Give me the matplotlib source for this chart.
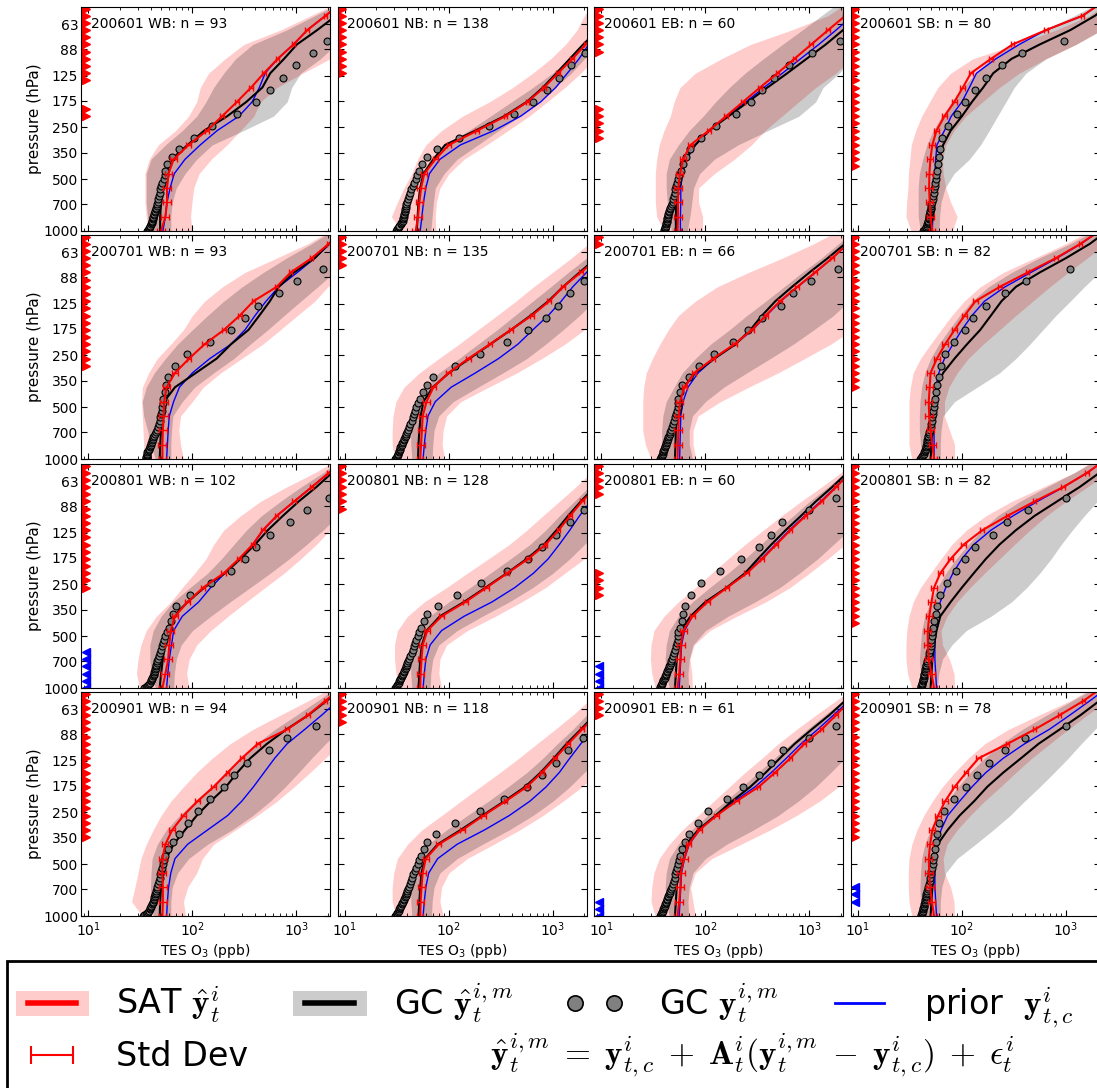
import numpy as np
import matplotlib
matplotlib.use('Agg')
import matplotlib.pyplot as plt
import matplotlib.transforms as mtransforms
from matplotlib.lines import Line2D
from matplotlib.patches import Rectangle
from matplotlib.collections import LineCollection
from matplotlib.container import ErrorbarContainer
from matplotlib.legend_handler import HandlerErrorbar, HandlerTuple, HandlerLine2D
from matplotlib.ticker import NullLocator

'''
TES O3 profiles vs GEOS-Chem, four basins x four Januaries
'''

months = ['200601', '200701', '200801', '200901']
basins = ['WB', 'NB', 'EB', 'SB']
n_obs = [[93, 138, 60, 80],
         [93, 135, 66, 82],
         [102, 128, 60, 82],
         [94, 118, 61, 78]]

# TES levels used for the profiles (hPa)
p_levels = [1000, 825.4, 681.3, 562.3, 464.2, 383.1, 316.2, 261.0, 215.4,
            177.8, 146.8, 121.2, 100.0, 82.5, 68.1, 56.2, 46.4]
# all TES levels (for the significance flags)
p_tes = [1000, 908.5, 825.4, 749.9, 681.3, 619.0, 562.3, 510.9, 464.2, 421.7,
         383.1, 348.1, 316.2, 287.3, 261.0, 237.1, 215.4, 195.7, 177.8, 161.6,
         146.8, 133.4, 121.2, 110.1, 100.0, 90.9, 82.5, 75.0, 68.1, 61.9, 56.2, 51.1]
# GEOS-Chem model levels (hPa)
p_gc = [1005, 990, 975, 960, 945, 930, 915, 900, 885, 870, 855, 840, 825, 810,
        795, 780, 765, 749, 734, 719, 700, 674, 649, 624, 598, 573, 548, 523,
        497, 472, 447, 409, 373, 335, 289, 246, 209, 178, 152, 129, 108, 92, 78.5]

# panels in row order: 2006 WB NB EB SB, 2007 ..., 2008 ..., 2009 ...
sat_mean = [
    [50, 55, 57, 57, 59, 66, 92, 138, 193, 268, 366, 486, 660, 936, 1270, 1900, 2800],
    [48, 50.5, 52, 54, 58, 74, 100, 187, 350, 568, 820, 1117, 1534, 2060, 2800, 3800, 5200],
    [54, 54.5, 54.5, 55, 57, 61, 72, 108, 158, 230, 334, 493, 716, 1040, 1510, 2210, 3200],
    [52, 50, 49, 48.4, 48.7, 49.8, 52, 57, 68, 84.5, 102, 122, 190, 307, 642, 1445, 2300],
    [51.5, 51.5, 52, 53, 53.5, 56.5, 68, 93, 131, 201, 285, 386, 645, 880, 1400, 2050, 3000],
    [53, 54, 55, 56, 61, 71, 99, 154, 248, 393, 625, 920, 1250, 1850, 2700, 3800, 5200],
    [54, 54.5, 55, 55.5, 57, 63, 78, 119, 190, 280, 380, 520, 764, 1130, 1658, 2330, 3300],
    [54, 52, 50, 48.5, 48, 49, 50, 57.5, 69, 85, 106, 135, 231, 429, 800, 1380, 2200],
    [51.5, 55, 58.5, 60, 62, 68, 90, 127, 200, 280, 380, 474, 645, 950, 1400, 2050, 3000],
    [53, 53.5, 54.5, 56, 62, 85, 144, 230, 364, 578, 850, 1130, 1460, 1900, 2600, 3600, 5000],
    [54, 56, 57.5, 58, 61.5, 75, 105, 162, 250, 352, 480, 655, 920, 1310, 1800, 2450, 3400],
    [54, 51, 48, 47, 47, 48.5, 51, 54, 62, 78, 104, 157, 274, 500, 940, 1600, 2500],
    [51.5, 52, 52, 51.5, 51.5, 55, 64, 82, 112, 160, 218, 298, 425, 812, 1290, 1900, 2800],
    [53, 53.5, 54.5, 56, 60, 80, 135, 215, 350, 560, 780, 1050, 1400, 1900, 2600, 3600, 5000],
    [54, 56, 57.5, 58, 62.5, 69, 87.5, 128, 199, 325, 467, 655, 892, 1310, 1800, 2450, 3400],
    [54, 51.5, 49.5, 48.5, 48, 49.5, 52, 59, 69, 85, 110, 145, 274, 500, 870, 1480, 2300],
]

# std dev of the SAT profile, percent of the mean
sat_sd_pct = [
    [8, 9, 9, 9, 8, 7, 6, 5, 5, 5, 4, 4, 4, 4, 4, 4, 4],
    [7, 8, 8, 8, 7, 6, 5, 5, 4, 4, 4, 4, 4, 4, 4, 4, 4],
    [8, 9, 9, 9, 8, 6, 5, 5, 5, 4, 4, 4, 4, 4, 4, 4, 4],
    [7, 8, 8, 8, 8, 7, 7, 6, 6, 5, 5, 5, 4, 4, 4, 4, 4],
    [8, 9, 9, 9, 8, 7, 6, 5, 5, 5, 4, 4, 4, 4, 4, 4, 4],
    [7, 8, 8, 8, 7, 6, 5, 5, 4, 4, 4, 4, 4, 4, 4, 4, 4],
    [8, 9, 9, 9, 8, 6, 5, 5, 5, 4, 4, 4, 4, 4, 4, 4, 4],
    [7, 8, 8, 8, 8, 7, 7, 6, 6, 5, 5, 5, 4, 4, 4, 4, 4],
    [8, 9, 9, 9, 8, 7, 6, 5, 5, 5, 4, 4, 4, 4, 4, 4, 4],
    [7, 8, 8, 8, 7, 6, 5, 5, 4, 4, 4, 4, 4, 4, 4, 4, 4],
    [8, 9, 9, 9, 8, 6, 5, 5, 5, 4, 4, 4, 4, 4, 4, 4, 4],
    [7, 8, 8, 8, 8, 7, 7, 6, 6, 5, 5, 5, 4, 4, 4, 4, 4],
    [8, 9, 9, 9, 8, 7, 6, 5, 5, 5, 4, 4, 4, 4, 4, 4, 4],
    [7, 8, 8, 8, 7, 6, 5, 5, 4, 4, 4, 4, 4, 4, 4, 4, 4],
    [8, 9, 9, 9, 8, 6, 5, 5, 5, 4, 4, 4, 4, 4, 4, 4, 4],
    [7, 8, 8, 8, 8, 7, 7, 6, 6, 5, 5, 5, 4, 4, 4, 4, 4],
]

sat_lo = [
    [37, 36, 35, 35, 35, 38.5, 47, 69, 92, 110, 119, 143, 206, 312, 700, 1365, 2660],
    [35, 28, 32, 37, 44, 50, 60, 85, 135, 245, 410, 640, 950, 1320, 1700, 2000, 2500],
    [40, 34, 33, 33, 33, 34, 36, 40, 46, 50, 57, 80, 142, 271, 670, 1500, 2400],
    [32.4, 29, 29.4, 30.3, 30.6, 31.6, 32.6, 36, 41, 49, 58.6, 78, 127, 331, 802, 1680, 2600],
    [34, 34, 33.5, 33, 32.5, 33, 38, 46, 62, 82, 100, 131, 194, 320, 645, 1290, 2200],
    [30, 28.5, 28.5, 29, 31, 37, 52, 80, 125, 190, 290, 440, 650, 990, 1500, 2200, 3200],
    [30, 26.5, 25, 25, 25, 25.5, 27, 31, 36.5, 44, 55, 80, 130, 260, 550, 1100, 2000],
    [33, 31, 31, 31, 31, 32, 34, 40, 50, 63, 80, 105, 150, 250, 500, 1000, 1800],
    [31, 29, 30, 32, 36, 45, 62, 80, 105, 135, 160, 200, 290, 450, 800, 1500, 2600],
    [33, 31, 30, 30, 32, 40, 58, 95, 150, 240, 380, 560, 800, 1150, 1650, 2300, 3200],
    [33, 30.5, 29.6, 30, 32, 40, 55, 80, 115, 165, 240, 360, 540, 830, 1300, 2000, 3000],
    [33, 30, 29, 29, 29.5, 31, 34, 40, 50, 63, 80, 110, 170, 300, 600, 1200, 2000],
    [33, 26, 28, 30, 32, 36, 42, 50, 62, 82, 110, 155, 230, 380, 700, 1300, 2300],
    [31, 28.5, 28.5, 29.5, 32, 40, 55, 85, 130, 200, 310, 470, 700, 1050, 1550, 2200, 3100],
    [33, 30, 30.5, 32, 36, 45, 60, 85, 120, 170, 240, 350, 500, 750, 1150, 1800, 2800],
    [33, 31, 30.5, 30.5, 31, 33, 37, 43, 52, 65, 85, 115, 165, 280, 550, 1100, 1900],
]

sat_hi = [
    [99, 96, 99, 103, 116, 152, 215, 290, 389, 451, 650, 1150, 2100, 3000, 4200, 6000, 8000],
    [75, 74, 76, 82, 100, 140, 230, 370, 590, 880, 1300, 1850, 2500, 3500, 5000, 7000, 9500],
    [94, 94, 86, 86, 122, 190, 277, 374, 543, 789, 1148, 1795, 2500, 3300, 4500, 6000, 8000],
    [81, 90, 78, 70, 66, 65, 70, 84, 109, 158, 229, 356, 642, 1247, 2200, 3000, 4500],
    [82, 77, 74, 77, 100, 127, 187, 298, 474, 700, 1020, 1500, 2000, 2800, 4000, 5500, 7500],
    [91, 86, 88, 95, 130, 240, 450, 780, 1300, 2000, 2800, 3800, 5000, 6500, 8500, 11000, 14000],
    [81, 76, 76, 85, 140, 260, 500, 900, 1600, 2600, 3800, 5000, 6500, 8500, 11000, 14000, 18000],
    [85, 85, 76, 68, 68, 75, 90, 115, 160, 230, 330, 480, 700, 1050, 1600, 2400, 3500],
    [93, 88, 93, 110, 150, 220, 330, 500, 760, 1100, 1550, 2100, 2800, 3800, 5000, 6500, 8500],
    [85, 80, 82, 95, 150, 280, 500, 850, 1300, 2000, 2800, 3800, 5000, 6500, 8500, 11000, 14000],
    [75, 74, 71, 78, 110, 200, 380, 650, 1000, 1500, 2200, 3000, 4000, 5300, 7000, 9000, 12000],
    [85, 84, 76, 65, 63, 72, 90, 120, 165, 230, 320, 450, 650, 1000, 1600, 2500, 3800],
    [86, 82, 90, 110, 125, 160, 260, 420, 650, 950, 1350, 1900, 2600, 3500, 4700, 6200, 8000],
    [88, 82, 85, 100, 150, 270, 480, 800, 1250, 1900, 2700, 3700, 5000, 6500, 8500, 11000, 14000],
    [80, 76, 72, 80, 115, 220, 420, 750, 1250, 1900, 2800, 4000, 5500, 7300, 9500, 12000, 15000],
    [85, 84, 78, 68, 66, 72, 90, 120, 165, 235, 330, 470, 700, 1050, 1600, 2500, 3700],
]

gc_mean = [
    [49, 49, 50, 52, 56, 63, 90, 130, 216, 330, 470, 560, 760, 1010, 1580, 2400, 3500],
    [49, 50, 51, 53, 57, 71, 92, 180, 340, 560, 800, 1080, 1450, 1950, 2700, 3700, 5000],
    [52, 52, 52.5, 53, 56.7, 64.5, 80, 108, 167, 257, 394, 612, 937, 1435, 2100, 3000, 4200],
    [50, 50.5, 51, 52.5, 55, 60, 66, 78, 100, 125, 160, 200, 300, 560, 1100, 1900, 2900],
    [48.5, 49, 50, 50.5, 53.5, 68, 108, 171, 235, 346, 440, 555, 675, 950, 1500, 2050, 3000],
    [50.5, 51, 52, 53.5, 57, 70, 100, 158, 250, 395, 610, 900, 1250, 1800, 2600, 3700, 5000],
    [51, 51.5, 52, 53, 55, 62, 80, 122, 195, 270, 350, 470, 680, 1000, 1500, 2200, 3200],
    [50, 51, 52, 53, 54.5, 57, 66, 85, 112, 150, 190, 240, 330, 560, 1000, 1700, 2600],
    [48.5, 50, 52, 54, 57, 66, 90, 130, 205, 290, 400, 530, 740, 1050, 1550, 2200, 3200],
    [51, 52, 53, 55, 61, 82, 140, 225, 360, 560, 820, 1080, 1400, 1850, 2500, 3500, 4800],
    [51, 52, 53, 54.5, 58, 72, 100, 160, 240, 320, 430, 590, 830, 1150, 1650, 2300, 3200],
    [50, 51, 52, 54, 57, 62, 78, 100, 130, 170, 230, 330, 500, 820, 1350, 2100, 3100],
    [48.5, 49, 50, 52, 56, 66, 85, 110, 150, 210, 270, 360, 520, 800, 1300, 1950, 2900],
    [51, 52, 53, 54.5, 59, 78, 130, 210, 340, 540, 760, 1020, 1350, 1850, 2500, 3500, 4800],
    [51, 52, 53, 54.5, 58, 66, 85, 125, 180, 270, 380, 520, 720, 1050, 1550, 2200, 3100],
    [50, 51, 52, 53, 54, 58.5, 73, 95, 131, 175, 250, 370, 545, 870, 1380, 2100, 3100],
]

gc_lo = [
    [38, 37, 36, 36, 36, 40, 55, 80, 110, 135, 160, 200, 260, 380, 800, 1500, 2800],
    [49, 49, 49, 51, 55, 66, 90, 155, 250, 400, 640, 990, 1480, 2000, 2800, 4000, 5500],
    [47, 45, 43, 42, 42, 45, 55, 70, 95, 125, 170, 240, 360, 550, 850, 1300, 2000],
    [40, 38, 38, 38, 39, 42, 46, 53, 64, 80, 102, 135, 190, 310, 600, 1200, 2200],
    [44, 40, 37, 34, 33, 36, 43, 55, 72, 100, 140, 200, 300, 480, 800, 1400, 2300],
    [44, 43, 43, 44, 48, 58, 80, 125, 190, 290, 430, 640, 950, 1400, 2100, 3000, 4200],
    [40, 38, 38, 39, 42, 50, 60, 80, 112, 170, 250, 380, 570, 850, 1300, 1900, 2800],
    [42, 40, 39, 39, 39.5, 41, 44, 50, 60, 75, 95, 125, 180, 300, 550, 1100, 2000],
    [44, 40, 39, 39, 42, 50, 65, 95, 140, 190, 250, 330, 460, 700, 1100, 1800, 2800],
    [44, 43, 43, 45, 50, 65, 100, 160, 250, 390, 600, 850, 1150, 1600, 2200, 3000, 4000],
    [45, 42, 41, 42, 45, 55, 75, 110, 165, 240, 340, 480, 700, 1000, 1500, 2200, 3200],
    [41, 40, 39, 40, 41, 44, 50, 58, 70, 88, 115, 155, 220, 360, 650, 1200, 2100],
    [42, 40, 39.5, 40, 41, 46, 56, 75, 105, 150, 210, 290, 410, 620, 1000, 1600, 2500],
    [44, 43, 43, 45, 50, 63, 95, 150, 240, 370, 560, 800, 1100, 1550, 2100, 2900, 3900],
    [45, 42, 41, 42, 45, 55, 73, 105, 155, 225, 320, 460, 660, 950, 1400, 2100, 3100],
    [41, 40, 39.5, 40, 41, 44, 50, 58, 72, 92, 120, 165, 240, 380, 650, 1150, 2000],
]

gc_hi = [
    [62, 62, 64, 70, 85, 110, 155, 310, 600, 814, 900, 1100, 1700, 2400, 3300, 4500, 6500],
    [67, 69, 71, 74, 90, 120, 190, 300, 480, 720, 1050, 1500, 2000, 2800, 4000, 5500, 7500],
    [67, 71, 74, 77, 88, 122, 206, 400, 790, 1148, 1350, 1936, 2500, 3300, 4500, 6000, 8000],
    [60.5, 61, 63, 69, 84, 118, 151, 183, 220, 265, 318, 412, 642, 1247, 2200, 3200, 4500],
    [62, 62, 63, 65, 80, 105, 160, 250, 360, 530, 760, 1100, 1600, 2300, 3200, 4500, 6000],
    [69, 70, 72, 80, 110, 190, 330, 560, 850, 1250, 1800, 2500, 3400, 4500, 6000, 8000, 10000],
    [75, 70, 70, 75, 100, 150, 250, 420, 700, 1100, 1700, 2400, 3200, 4300, 5800, 7500, 10000],
    [62, 62, 63, 66, 85, 140, 230, 330, 450, 600, 800, 1100, 1500, 2100, 3000, 4200, 6000],
    [66, 67, 70, 78, 100, 150, 230, 360, 560, 850, 1250, 1800, 2500, 3400, 4600, 6000, 8000],
    [66, 67, 70, 80, 120, 210, 380, 640, 1000, 1450, 2000, 2800, 3800, 5000, 6500, 8500, 11000],
    [69, 68, 70, 76, 100, 165, 300, 520, 800, 1200, 1700, 2400, 3200, 4300, 5800, 7500, 10000],
    [58, 60, 65, 80, 110, 190, 300, 420, 560, 720, 900, 1150, 1500, 2000, 2800, 3800, 5000],
    [62, 62, 64, 72, 92, 140, 240, 380, 560, 780, 1050, 1400, 1900, 2600, 3500, 4700, 6200],
    [68, 69, 72, 82, 120, 210, 380, 640, 1000, 1450, 2000, 2800, 3800, 5000, 6500, 8500, 11000],
    [69, 68, 70, 76, 100, 160, 290, 500, 780, 1150, 1600, 2200, 3000, 4000, 5300, 7000, 9200],
    [62, 62, 64, 70, 90, 135, 200, 290, 400, 560, 770, 1050, 1400, 1900, 2600, 3600, 5000],
]

prior = [
    [52, 55, 57, 61, 67, 85, 119, 173, 280, 375, 440, 500, 660, 936, 1270, 1900, 2800],
    [53, 55, 57, 60, 65, 82, 129, 271, 489, 762, 1062, 1375, 1780, 2200, 3000, 4000, 5500],
    [57.5, 57.5, 58, 58, 60, 66, 80, 110, 162, 245, 365, 550, 820, 1230, 1800, 2600, 3700],
    [52, 52.5, 53, 53.5, 55, 56, 57.5, 68, 79, 100, 118, 138, 212, 356, 642, 1445, 2300],
    [56.5, 57.5, 58.5, 60, 66, 75, 100, 147, 235, 320, 400, 510, 675, 1020, 1500, 2100, 3000],
    [56.5, 58, 60, 63, 74, 105, 180, 300, 460, 640, 900, 1200, 1550, 2100, 2900, 4000, 5500],
    [56.5, 57, 57.5, 58, 61, 68, 85, 122, 192, 285, 385, 530, 770, 1140, 1660, 2330, 3300],
    [54, 54, 54, 54, 54.5, 56, 60, 68, 82, 100, 125, 165, 260, 460, 820, 1400, 2200],
    [56.5, 58, 60, 63, 66, 80, 115, 150, 205, 285, 380, 480, 650, 950, 1400, 2050, 3000],
    [56.5, 58, 60, 66, 85, 140, 260, 430, 650, 900, 1150, 1450, 1800, 2300, 3000, 4000, 5400],
    [56, 57, 58, 59, 63, 75, 103, 160, 248, 345, 470, 640, 900, 1280, 1780, 2450, 3400],
    [57, 56, 55, 55, 55.5, 57, 62, 70, 82, 100, 130, 190, 310, 530, 950, 1600, 2500],
    [56.5, 57.5, 59, 62, 68, 90, 140, 218, 298, 386, 488, 618, 812, 1200, 1750, 2500, 3500],
    [56.5, 58, 60, 64, 78, 120, 220, 380, 600, 860, 1150, 1450, 1850, 2400, 3200, 4300, 5800],
    [56, 57, 58, 59, 63, 70, 88, 125, 190, 300, 430, 600, 830, 1200, 1700, 2400, 3300],
    [57, 56, 55, 55, 55.5, 58, 63, 73, 95, 125, 170, 250, 400, 690, 1090, 1700, 2600],
]

# GC model profile on its own levels (p_gc)
gc_model = [
    [37, 37.5, 38, 38.5, 39, 39.5, 40, 40.5, 41, 41, 41.5, 42, 42, 42.5, 43, 43.5, 44, 44.5, 45, 45.5,
     46, 46.5, 47, 48, 48.5, 49, 50, 51, 53, 54, 55, 57, 63, 75, 104, 155, 270, 405, 560, 740, 1000, 1430, 1970],
    [31.3, 31.7, 32, 32.5, 33, 33.5, 34.4, 34.8, 35.3, 36, 36.2, 36.5, 36.8, 37, 37.2, 37.5, 37.8, 38, 38.3, 38.5,
     39, 40, 40.5, 41, 42, 43.5, 45, 46, 48, 49.6, 52, 55, 61, 76, 125, 243, 422, 647, 869, 1135, 1500, 2018, 2670],
    [40, 40.3, 40.7, 41, 41.3, 41.5, 41.8, 42, 42.4, 42.7, 43, 43.2, 43.5, 43.8, 44, 44.5, 45, 45.5, 46, 46.8,
     47.7, 48.5, 49, 50, 51, 51.5, 52, 53.5, 54, 56, 58, 61, 65, 71, 90, 126, 198, 277, 347, 461, 640, 1050, 1982],
    [42.5, 43.2, 44, 44.8, 45.5, 46, 46.5, 47, 47.3, 47.6, 47.9, 48.2, 48.5, 48.8, 49.1, 49.4, 49.7, 50, 50.3, 50.6,
     51, 51.6, 52.2, 52.8, 53.4, 54, 54.6, 55.3, 56, 56.6, 57, 59, 60.5, 62, 65, 74, 89.5, 108, 133, 170, 244, 377, 950],
    [35.5, 36, 36, 36.5, 36.5, 37, 37, 37.5, 38, 38.5, 39, 39.5, 40, 40, 40.5, 41, 41.5, 42, 43, 44,
     45, 46, 47, 48, 48.5, 49, 50, 50.5, 51, 52, 52.5, 54, 56, 58.5, 68, 89.7, 147, 235, 320, 425, 675, 1020, 1800],
    [30.5, 31, 31.4, 31.8, 32.3, 32.3, 32.8, 33.3, 33.7, 33.7, 34.2, 34.7, 35.2, 35.7, 36.2, 36.8, 37.3, 38, 38.4, 39,
     39.5, 40.5, 41.5, 42.7, 43.8, 45, 46, 47.4, 48.7, 50.3, 53, 56.5, 61, 71, 114, 199, 364, 578, 850, 1110, 1460, 2000, 2600],
    [37, 37.3, 37.6, 38, 38.4, 38.8, 39.2, 39.5, 39.9, 40.3, 40.6, 41, 41.5, 42, 42.5, 43, 43.5, 44, 44.7, 45.3,
     46, 47, 48, 49, 50, 51, 52, 53, 54, 54.5, 55, 57, 59.4, 69, 87.5, 122, 185, 258, 352, 527, 690, 1041, 1880],
    [40, 40.5, 41, 41.5, 42, 42.8, 43.3, 44, 44.4, 44.7, 45, 45.4, 45.7, 46, 46.3, 46.5, 47, 47.3, 47.7, 48,
     48.5, 49.3, 50, 50.5, 51.3, 52, 52.5, 53, 54, 54.5, 55, 56, 58, 60, 63, 69, 84.6, 106, 128, 170, 258, 411, 1090],
    [34.5, 35.5, 36.5, 37.5, 38.3, 39, 39.6, 40.2, 40.8, 41.3, 41.8, 42.3, 42.7, 43.1, 43.5, 43.9, 44.3, 44.7, 45.1, 45.5,
     46, 47, 48, 49, 50, 51, 52, 53.5, 55, 57, 59, 62, 65, 70, 95, 150, 235, 320, 405, 555, 860, 1250, 2050],
    [30.5, 31, 31.4, 31.8, 32.3, 32.8, 33.3, 33.7, 34.2, 34.7, 35.2, 35.7, 36.2, 36.8, 37.3, 38, 38.4, 39, 39.5, 40,
     40.5, 41.5, 42.7, 43.8, 45, 46, 47.4, 48.7, 50.3, 52, 54, 57.5, 62, 78, 119, 205, 364, 578, 790, 1080, 1460, 2000, 2600],
    [36.6, 37, 37.4, 37.8, 38.2, 38.6, 39, 39.5, 40, 40.5, 41, 41.5, 42, 42.6, 43.2, 43.8, 44.4, 45, 45.6, 46.3,
     47, 48, 49, 50, 51, 52, 53, 54, 54.5, 55, 56.5, 59.4, 61.5, 64, 72.5, 91, 139, 221, 325, 425, 545, 995, 1800],
    [40.3, 40.5, 40.8, 41.1, 41.4, 41.7, 42, 42.3, 42.6, 42.9, 43.2, 43.5, 43.7, 44, 44.3, 44.6, 44.9, 45.2, 45.5, 46,
     46.7, 47.4, 48, 48.6, 49.3, 50, 50.5, 51, 51.5, 52, 52.5, 54, 56, 57.5, 61, 72.5, 87.5, 106, 135, 197, 274, 429, 1000],
    [33.5, 34.5, 35.5, 36.5, 37.3, 38, 38.7, 39.3, 39.9, 40.4, 40.9, 41.4, 41.9, 42.3, 42.7, 43.1, 43.5, 43.9, 44.3, 44.7,
     45.2, 46, 46.8, 47.6, 48.4, 49.2, 50, 51, 52, 53.5, 55, 58, 65, 74, 90, 112, 147, 200, 253, 333, 540, 812, 1550],
    [30.5, 31, 31.5, 32, 32.5, 33, 33.4, 33.8, 34.2, 34.7, 35.2, 35.7, 36.2, 36.8, 37.3, 37.8, 38.3, 38.9, 39.4, 40,
     40.5, 41.5, 42.5, 43.5, 44.5, 45.5, 47, 48.5, 50, 52, 54, 57, 62, 75, 114, 200, 340, 560, 790, 1080, 1400, 1950, 2600],
    [37, 37.4, 37.8, 38.2, 38.6, 39, 39.4, 39.8, 40.2, 40.6, 41, 41.5, 42, 42.5, 43, 43.5, 44, 44.6, 45.2, 45.8,
     46.5, 47.5, 48.5, 49.5, 50.5, 51.5, 52.5, 53.5, 54.5, 55.5, 57, 60, 63, 69, 84.6, 105, 162, 230, 325, 425, 561, 995, 1800],
    [40.5, 40.8, 41.1, 41.4, 41.7, 42, 42.3, 42.6, 42.9, 43.2, 43.5, 43.8, 44.1, 44.4, 44.7, 45, 45.3, 45.6, 46, 46.4,
     47, 47.7, 48.4, 49, 49.7, 50.4, 51, 51.6, 52.2, 53, 54, 55, 56.5, 57.5, 60, 67, 84.6, 110, 139, 184, 258, 400, 1000],
]

# TES level indices (first, last) where SAT is significantly higher (red) / lower (blue)
flags_high = [
    [(16, 17), (21, 31)], [(22, 31)], [(13, 17), (25, 31)], [(9, 31)],
    [(13, 31)], [(27, 31)], [(30, 31)], [(10, 31)],
    [(14, 31)], [(25, 31)], [(13, 16), (27, 31)], [(9, 31)],
    [(11, 31)], [(27, 31)], [(28, 31)], [(11, 31)],
]
flags_low = [
    [], [], [], [],
    [], [], [], [],
    [(0, 5)], [], [(0, 3)], [],
    [], [], [(0, 2)], [(2, 4)],
]

ytick_vals = [1000, 700, 500, 350, 250, 175, 125, 88, 63]

plt.rcParams['font.family'] = 'DejaVu Sans'

fig = plt.figure(figsize=(10.97, 10.88), dpi=100)
W, H = 1097.0, 1088.0
col_left = [81, 337.5, 594, 850.5]
row_bottom = [231, 459, 688, 916]
ax_w, ax_h = 249, 224


def expand(ranges):
    return [p_tes[i] for a, b in ranges for i in range(a, b + 1)]


for r in range(4):
    for c in range(4):
        k = r * 4 + c
        ax = fig.add_axes([col_left[c] / W, 1 - row_bottom[r] / H, ax_w / W, ax_h / H])

        sat = np.array(sat_mean[k])
        ax.fill_betweenx(p_levels, sat_lo[k], sat_hi[k], color='red', alpha=0.2, lw=0)
        ax.fill_betweenx(p_levels, gc_lo[k], gc_hi[k], color='black', alpha=0.2, lw=0)
        ax.plot(prior[k], p_levels, color='blue', lw=1.0)
        ax.plot(gc_mean[k], p_levels, color='black', lw=1.5)
        ax.plot(gc_model[k], p_gc, 'o', mfc='gray', mec='black', ms=5, mew=0.8)
        ax.plot(sat, p_levels, color='red', lw=1.5)
        ax.errorbar(sat, p_levels, xerr=sat * np.array(sat_sd_pct[k]) / 100.0,
                    fmt='none', ecolor='red', elinewidth=1, capsize=2, capthick=1)

        trans = mtransforms.blended_transform_factory(ax.transAxes, ax.transData)
        hp = expand(flags_high[k])
        if hp:
            ax.plot([0.02] * len(hp), hp, '>', color='red', mec='red', ms=6, transform=trans)
        lp = expand(flags_low[k])
        if lp:
            ax.plot([0.02] * len(lp), lp, '<', color='blue', mec='blue', ms=6, transform=trans)

        ax.set_xscale('log')
        ax.set_yscale('log')
        ax.set_xlim(8.5, 2100)
        ax.set_ylim(1000, 50)
        ax.yaxis.set_minor_locator(NullLocator())
        ax.set_yticks(ytick_vals, labels=[str(v) for v in ytick_vals])
        ax.tick_params(which='both', direction='in', top=True, right=True, labelsize=10)
        ax.tick_params(which='major', length=4, pad=2)
        ax.tick_params(which='minor', length=2)
        if c > 0:
            ax.tick_params(labelleft=False)
        else:
            ax.set_ylabel('pressure (hPa)', fontsize=11, labelpad=1)
        if r < 3:
            ax.tick_params(labelbottom=False)
        else:
            ax.tick_params(axis='x', pad=3)
            ax.set_xlabel('TES O$_\\mathsf{3}$ (ppb)', fontsize=10, labelpad=2)
        ax.text(0.04, 0.925, '%s %s: n = %d' % (months[r], basins[c], n_obs[r][c]),
                transform=ax.transAxes, fontsize=10, va='center', ha='left')

# legend
h_sat = (Line2D([], [], color='#ffcccc', lw=18, solid_capstyle='projecting'),
         Line2D([], [], color='red', lw=4))
h_gc = (Line2D([], [], color='#cccccc', lw=18, solid_capstyle='projecting'),
        Line2D([], [], color='black', lw=4))
h_pts = Line2D([], [], ls='none', marker='o', mfc='gray', mec='black', ms=11, mew=1.2)
h_prior = Line2D([], [], color='blue', lw=2)
caps = (Line2D([], [], color='red', marker='|', ms=13, mew=1.5, ls='none'),
        Line2D([], [], color='red', marker='|', ms=13, mew=1.5, ls='none'))
bars = (LineCollection([], colors='red', linewidths=1.5),)
h_std = ErrorbarContainer((None, caps, bars), has_xerr=True, has_yerr=False)

handles = [h_sat, h_std, h_gc, h_pts, h_prior]
labels = ['SAT $\\hat{\\mathbf{y}}_t^i$', 'Std Dev', 'GC $\\hat{\\mathbf{y}}_t^{i,m}$',
          'GC $\\mathbf{y}_t^{i,m}$', 'prior  $\\mathbf{y}_{t,c}^i$']
leg = fig.legend(handles, labels, loc='upper left', bbox_to_anchor=(7 / W, 1 - 960 / H),
                 ncol=4, fontsize=24, numpoints=1, frameon=False,
                 borderaxespad=0, borderpad=0.62,
                 handlelength=1.45, handletextpad=1.2, columnspacing=1.72, labelspacing=0.45,
                 handler_map={tuple: HandlerTuple(ndivide=1),
                              h_pts: HandlerLine2D(numpoints=2, marker_pad=0.15),
                              ErrorbarContainer: HandlerErrorbar(xerr_size=0.63, numpoints=1)})
for t in leg.get_texts():
    t.set_math_fontfamily('cm')

# legend box runs off the right and bottom edges of the figure
fig.add_artist(Rectangle((7 / W, -0.05), 1.0, 0.05 + (H - 961) / H, transform=fig.transFigure,
                         fill=False, ec='black', lw=2.0, clip_on=False))

eq = fig.text(490 / W, 1 - 1055 / H,
              '$\\hat{\\mathbf{y}}_t^{i,m} \\;=\\; \\mathbf{y}_{t,c}^i \\;+\\; \\mathbf{A}_t^i'
              '(\\mathbf{y}_t^{i,m} \\;-\\; \\mathbf{y}_{t,c}^i) \\;+\\; \\epsilon_t^i$',
              fontsize=24, va='center', ha='left', math_fontfamily='cm', zorder=10)

fig.savefig('out.png', dpi=100)
